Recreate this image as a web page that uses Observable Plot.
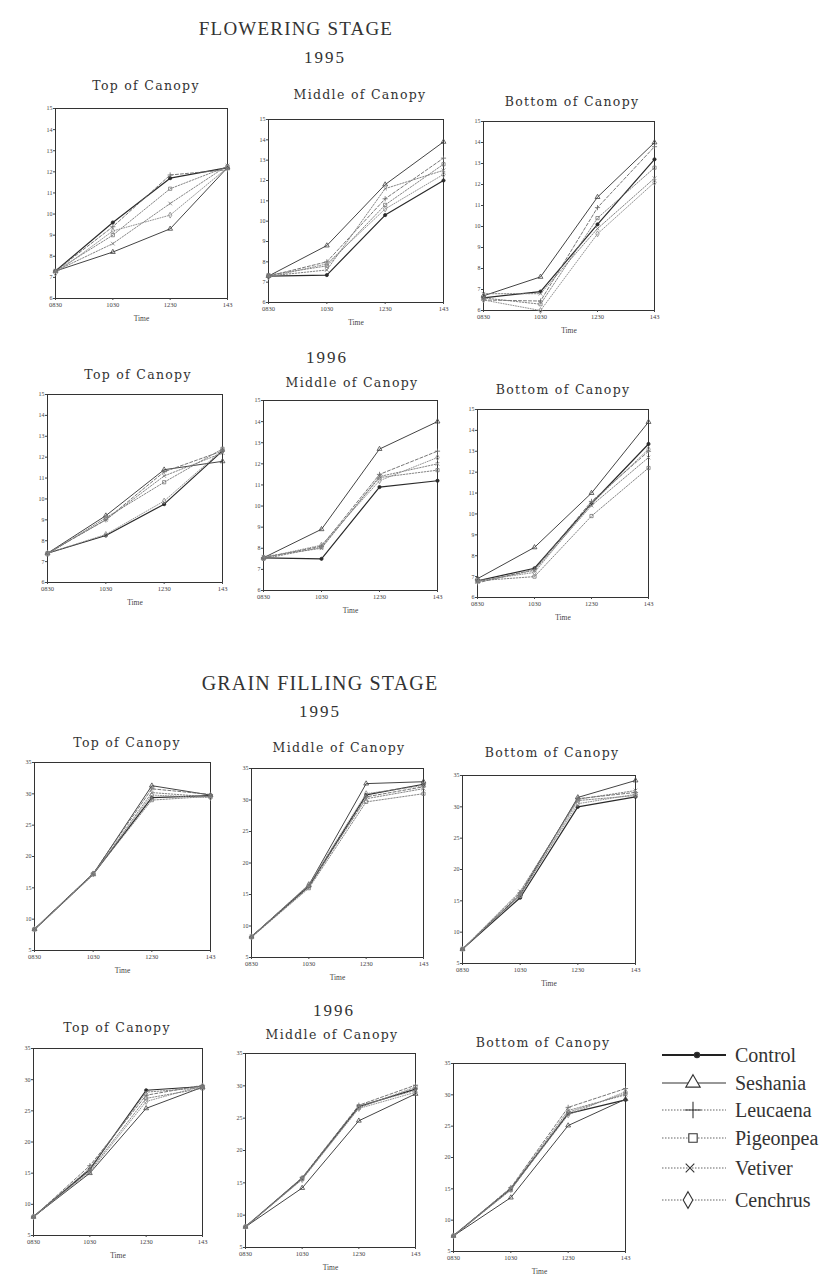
<!DOCTYPE html>
<html>
<head>
<meta charset="utf-8">
<script src="https://cdn.jsdelivr.net/npm/d3@7"></script>
<script src="https://cdn.jsdelivr.net/npm/@observablehq/plot@0.6"></script>
<style>
  html, body { margin: 0; padding: 0; background: #fff; }
  #root { position: relative; width: 834px; height: 1285px; background: #fff; overflow: hidden; }
  .t { position: absolute; white-space: nowrap; line-height: 1; transform: translate(-50%, -50%); color: #333; }
  .lt { position: absolute; white-space: nowrap; line-height: 1; transform: translate(0, -50%); color: #333;
        font-family: "Liberation Serif", "DejaVu Serif", serif; font-size: 20px; }
</style>
</head>
<body>
<div id="root"></div>
<script>
// ---------- data ----------
const timeVals = [8.5, 10.5, 12.5, 14.5];
const timeLabels = ["0830", "1030", "1230", "143"];
const seriesNames = ["Control", "Seshania", "Leucaena", "Pigeonpea", "Vetiver", "Cenchrus"];
const flowerTicks = [6, 7, 8, 9, 10, 11, 12, 13, 14, 15];
const grainTicks = [5, 10, 15, 20, 25, 30, 35];

// Flowering stage 1995 (rows in seriesNames order, values at 0830,1030,1230,1430)
const fl95Top = [
  [7.3, 9.6, 11.7, 12.2],
  [7.3, 8.2, 9.3, 12.2],
  [7.3, 9.4, 11.85, 12.1],
  [7.3, 9.0, 11.2, 12.25],
  [7.3, 8.6, 10.5, 12.3],
  [7.2, 9.2, 9.95, 12.2]
];
const fl95Mid = [
  [7.3, 7.35, 10.3, 12.0],
  [7.3, 8.8, 11.8, 13.9],
  [7.3, 8.0, 11.1, 13.1],
  [7.35, 7.8, 10.8, 12.8],
  [7.3, 7.6, 11.6, 12.5],
  [7.25, 7.9, 10.6, 12.3]
];
const fl95Bot = [
  [6.6, 6.9, 10.1, 13.2],
  [6.7, 7.6, 11.4, 14.0],
  [6.5, 6.45, 10.9, 13.8],
  [6.6, 6.3, 10.4, 12.8],
  [6.8, 6.8, 9.9, 12.3],
  [6.5, 6.0, 9.65, 12.1]
];
// Flowering stage 1996
const fl96Top = [
  [7.4, 8.25, 9.75, 12.3],
  [7.4, 9.2, 11.4, 11.8],
  [7.4, 9.0, 11.3, 12.3],
  [7.35, 9.1, 10.8, 12.4],
  [7.4, 9.0, 11.1, 12.2],
  [7.4, 8.3, 9.9, 12.35]
];
const fl96Mid = [
  [7.55, 7.5, 10.9, 11.2],
  [7.55, 8.9, 12.7, 14.0],
  [7.55, 8.1, 11.5, 12.6],
  [7.5, 8.05, 11.35, 11.7],
  [7.6, 8.0, 11.4, 12.0],
  [7.55, 8.15, 11.2, 12.3]
];
const fl96Bot = [
  [6.8, 7.4, 10.5, 13.35],
  [6.9, 8.4, 11.0, 14.4],
  [6.7, 7.35, 10.6, 13.0],
  [6.8, 7.0, 9.9, 12.2],
  [6.75, 7.3, 10.4, 12.7],
  [6.8, 7.2, 10.5, 13.1]
];
// Grain filling stage 1995
const gr95Top = [
  [8.4, 17.2, 29.4, 29.7],
  [8.4, 17.2, 31.3, 29.8],
  [8.4, 17.3, 30.8, 29.9],
  [8.4, 17.2, 29.0, 29.6],
  [8.3, 17.1, 30.2, 29.5],
  [8.4, 17.2, 29.8, 29.4]
];
const gr95Mid = [
  [8.3, 16.3, 30.8, 32.5],
  [8.3, 16.5, 32.6, 32.9],
  [8.3, 16.2, 30.5, 32.1],
  [8.2, 16.0, 29.7, 31.0],
  [8.3, 16.4, 30.2, 31.8],
  [8.3, 16.6, 31.0, 32.3]
];
const gr95Bot = [
  [7.3, 15.5, 30.0, 31.6],
  [7.3, 16.0, 31.5, 34.2],
  [7.3, 16.3, 31.3, 32.3],
  [7.3, 15.8, 31.0, 31.8],
  [7.3, 16.5, 31.2, 32.6],
  [7.3, 15.9, 30.5, 32.0]
];
// Grain filling stage 1996
const gr96Top = [
  [8.0, 15.6, 28.3, 28.9],
  [8.0, 15.0, 25.4, 28.8],
  [8.0, 16.2, 27.5, 29.1],
  [8.0, 15.4, 27.0, 28.6],
  [8.0, 15.8, 28.0, 28.7],
  [8.0, 15.2, 26.5, 29.0]
];
const gr96Mid = [
  [8.2, 15.7, 26.8, 29.5],
  [8.2, 14.2, 24.6, 28.75],
  [8.2, 15.8, 27.0, 30.1],
  [8.2, 15.6, 26.6, 29.8],
  [8.2, 15.7, 26.9, 29.3],
  [8.2, 15.5, 26.5, 29.0]
];
const gr96Bot = [
  [7.5, 15.0, 27.0, 29.2],
  [7.5, 13.6, 25.1, 29.3],
  [7.5, 15.2, 28.0, 31.0],
  [7.5, 14.8, 27.2, 30.2],
  [7.5, 15.1, 27.5, 30.0],
  [7.5, 14.9, 26.8, 30.5]
];

// ---------- styles ----------
const seriesStroke = ["#2a2a2a", "#444", "#666", "#777", "#777", "#888"];
const seriesWidth = [1.2, 1.0, 0.9, 0.9, 0.9, 0.9];
const seriesDash = [null, null, "3,2", "1.5,1.5", "1.5,1.5", "1,1.5"];
const seriesSymbol = ["circle", "triangle", "plus", "square", "times", "diamond"];

// ---------- layout ----------
const root = document.getElementById("root");
function addText(str, cx, cy, family, size, spacing, weight) {
  const d = document.createElement("div");
  d.className = "t";
  d.textContent = str;
  d.style.left = cx + "px";
  d.style.top = cy + "px";
  d.style.fontFamily = family;
  d.style.fontSize = size + "px";
  d.style.letterSpacing = (spacing || 0) + "px";
  if (weight) d.style.fontWeight = weight;
  root.appendChild(d);
}

const serif = "'Liberation Serif', 'DejaVu Serif', serif";
const slab = "'DejaVu Serif', serif";

addText("FLOWERING STAGE", 296, 28, serif, 19, 1.2);
addText("1995", 325, 57, serif, 17, 2);
addText("1996", 327, 357, serif, 17, 2);
addText("GRAIN FILLING STAGE", 320, 683, serif, 20, 1.2);
addText("1995", 320, 711, serif, 17, 2);
addText("1996", 334, 1010, serif, 17, 2);

const panels = [
  {title: "Top of Canopy", tx: 146, ty: 86, l: 55, t: 108, r: 227, b: 298, data: fl95Top, domain: [6, 15], ticks: flowerTicks},
  {title: "Middle of Canopy", tx: 360, ty: 95, l: 268, t: 119, r: 443, b: 302, data: fl95Mid, domain: [6, 15], ticks: flowerTicks},
  {title: "Bottom of Canopy", tx: 572, ty: 102, l: 483, t: 121, r: 654, b: 310, data: fl95Bot, domain: [6, 15], ticks: flowerTicks},
  {title: "Top of Canopy", tx: 138, ty: 375, l: 47, t: 394, r: 222, b: 582, data: fl96Top, domain: [6, 15], ticks: flowerTicks},
  {title: "Middle of Canopy", tx: 352, ty: 383, l: 263, t: 400, r: 437, b: 590, data: fl96Mid, domain: [6, 15], ticks: flowerTicks},
  {title: "Bottom of Canopy", tx: 563, ty: 390, l: 477, t: 409, r: 648, b: 597, data: fl96Bot, domain: [6, 15], ticks: flowerTicks},
  {title: "Top of Canopy", tx: 127, ty: 743, l: 34, t: 762, r: 210, b: 950, data: gr95Top, domain: [5, 35], ticks: grainTicks},
  {title: "Middle of Canopy", tx: 339, ty: 748, l: 251, t: 768, r: 423, b: 957, data: gr95Mid, domain: [5, 35], ticks: grainTicks},
  {title: "Bottom of Canopy", tx: 552, ty: 753, l: 462, t: 775, r: 635, b: 963, data: gr95Bot, domain: [5, 35], ticks: grainTicks},
  {title: "Top of Canopy", tx: 117, ty: 1028, l: 33, t: 1048, r: 202, b: 1235, data: gr96Top, domain: [5, 35], ticks: grainTicks},
  {title: "Middle of Canopy", tx: 332, ty: 1035, l: 245, t: 1053, r: 415, b: 1247, data: gr96Mid, domain: [5, 35], ticks: grainTicks},
  {title: "Bottom of Canopy", tx: 543, ty: 1043, l: 453, t: 1063, r: 625, b: 1251, data: gr96Bot, domain: [5, 35], ticks: grainTicks}
];

function drawPanel(p) {
  const ml = 18, mr = 8, mt = 6, mb = 32;
  const w = p.r - p.l, h = p.b - p.t;
  const marks = [Plot.frame({stroke: "#333", strokeWidth: 1})];
  marks.push(Plot.axisY({ticks: p.ticks, tickSize: 2, tickPadding: 1, label: null, fontSize: 6, fill: "#444"}));
  marks.push(Plot.axisX({ticks: timeVals, tickFormat: d => timeLabels[timeVals.indexOf(d)], tickSize: 2, tickPadding: 2, label: null, fontSize: 6.5, fill: "#444"}));
  marks.push(Plot.text(["Time"], {text: d => d, frameAnchor: "bottom", dy: 22, fontSize: 7.5, fill: "#444"}));
  seriesNames.forEach((s, si) => {
    const rows = p.data[si].map((v, ti) => ({series: s, time: timeVals[ti], value: v}));
    const lineOpts = {x: "time", y: "value", stroke: seriesStroke[si], strokeWidth: seriesWidth[si]};
    if (seriesDash[si]) lineOpts.strokeDasharray = seriesDash[si];
    marks.push(Plot.line(rows, lineOpts));
    marks.push(Plot.dot(rows, {
      x: "time", y: "value", symbol: seriesSymbol[si], r: si === 0 ? 1.6 : 1.8,
      stroke: seriesStroke[si], fill: si === 0 ? seriesStroke[si] : "none", strokeWidth: 0.8
    }));
  });
  const svg = Plot.plot({
    width: w + ml + mr,
    height: h + mt + mb,
    marginLeft: ml, marginRight: mr, marginTop: mt, marginBottom: mb,
    x: {domain: [8.5, 14.5]},
    y: {domain: p.domain},
    style: {fontFamily: serif, color: "#444", background: "transparent", overflow: "visible"},
    marks
  });
  svg.style.position = "absolute";
  svg.style.left = (p.l - ml) + "px";
  svg.style.top = (p.t - mt) + "px";
  root.appendChild(svg);
  addText(p.title, p.tx, p.ty, slab, 12.5, 1.3);
}
panels.forEach(drawPanel);

// ---------- legend ----------
const legendY = [1055, 1083, 1110, 1138, 1168, 1200];
const lg = d3.select(root).append("svg")
  .attr("width", 80).attr("height", 180)
  .style("position", "absolute").style("left", "654px").style("top", "1040px");
const symTypes = [d3.symbolCircle, d3.symbolTriangle, d3.symbolPlus, d3.symbolSquare, d3.symbolTimes, d3.symbolDiamond];
const symSizes = [22, 90, 90, 70, 50, 80];
const symX = [43, 39, 39, 39, 36, 34];
seriesNames.forEach((s, i) => {
  const y = legendY[i] - 1040;
  const g = lg.append("g");
  g.append("line").attr("x1", 8).attr("x2", 72).attr("y1", y).attr("y2", y)
    .attr("stroke", i === 0 ? "#222" : i === 1 ? "#333" : "#666")
    .attr("stroke-width", i === 0 ? 2 : 1.1)
    .attr("stroke-dasharray", i < 2 ? null : "1.5,1.5");
  g.append("path").attr("d", d3.symbol(symTypes[i], symSizes[i])())
    .attr("transform", `translate(${symX[i]},${y})`)
    .attr("fill", i === 0 ? "#222" : "#fff")
    .attr("stroke", "#333").attr("stroke-width", 1.1);
  const d = document.createElement("div");
  d.className = "lt";
  d.textContent = s;
  d.style.left = "735px";
  d.style.top = legendY[i] + "px";
  root.appendChild(d);
});
</script>
</body>
</html>
